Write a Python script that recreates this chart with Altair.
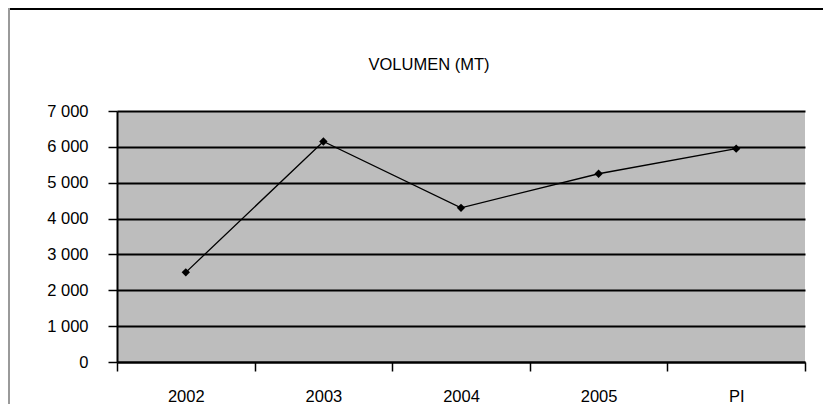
import altair as alt
import pandas as pd

categories = ["2002", "2003", "2004", "2005", "PI"]
volumen = [2500, 6150, 4300, 5250, 5950]
title_text = "VOLUMEN (MT)"

df = pd.DataFrame({"cat": categories, "vol": volumen})

W, H = 688, 251
FONT = "Liberation Sans"
FS = 16.5

x_enc = alt.X(
    "cat:N",
    sort=categories,
    bandPosition=0.5,
    scale=alt.Scale(type="band", paddingInner=0, paddingOuter=0),
    axis=alt.Axis(
        title=None, labelAngle=0, tickBand="extent", domainColor="black",
        tickColor="black", tickSize=9, tickWidth=1.5, domainWidth=2,
        labelPadding=17, labelFont=FONT, labelFontSize=FS, labelColor="black",
    ),
)
y_enc = alt.Y(
    "vol:Q",
    scale=alt.Scale(domain=[0, 7000], nice=False),
    axis=alt.Axis(
        title=None, values=[0, 1000, 2000, 3000, 4000, 5000, 6000, 7000],
        labelExpr="replace(format(datum.value, ','), ',', ' ')",
        grid=True, gridColor="black", gridWidth=2, gridOpacity=1,
        domainColor="black", domainWidth=2, tickColor="black", tickSize=9,
        tickWidth=1.5, labelPadding=20, labelFont=FONT, labelFontSize=FS,
        labelColor="black",
    ),
)

frame_top = alt.Chart(df).mark_rule(color="black", strokeWidth=2, clip=False).encode(
    x=alt.value(-109), x2=alt.value(W + 18), y=alt.value(-102)
)
frame_left = alt.Chart(df).mark_rule(color="#9a9a9a", strokeWidth=2, clip=False).encode(
    x=alt.value(-108), y=alt.value(-103), y2=alt.value(H + 42)
)

title = alt.Chart(pd.DataFrame({"t": [title_text]})).mark_text(
    font=FONT, fontSize=FS, color="black", align="center", baseline="middle"
).encode(x=alt.value(312), y=alt.value(-46), text="t:N")

line = alt.Chart(df).mark_line(color="black", strokeWidth=1.3).encode(x=x_enc, y=y_enc)
pts = alt.Chart(df).mark_point(
    shape="diamond", filled=True, color="black", size=70, opacity=1
).encode(x=x_enc, y=y_enc)

chart = alt.layer(line, pts, title, frame_top, frame_left).properties(
    width=W, height=H,
    autosize=alt.AutoSizeParams(type="none"),
    padding={"left": 109, "top": 103, "right": 18, "bottom": 42},
    background="white",
).configure_view(stroke=None, fill="#bdbdbd")

chart.save("out.html", embed_options={"renderer": "svg", "actions": False})
